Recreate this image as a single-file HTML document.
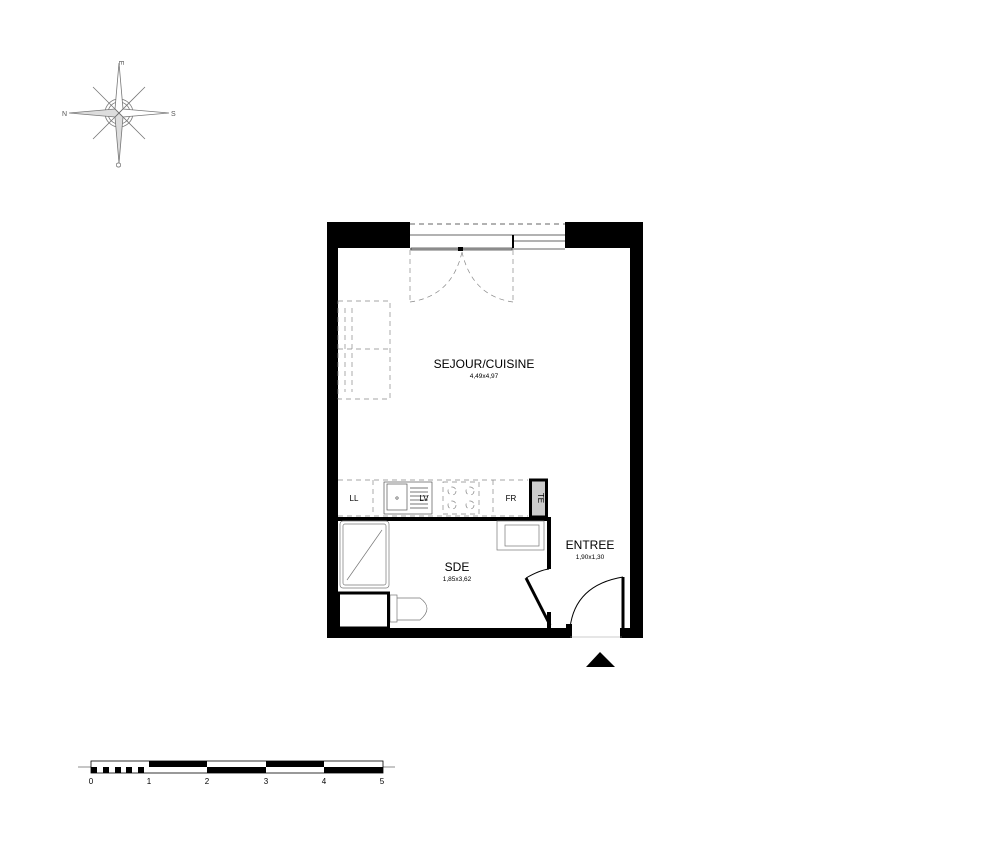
<!DOCTYPE html>
<html><head><meta charset="utf-8"><style>body{margin:0;background:#fff}svg{display:block}text{font-family:"Liberation Sans",Arial,sans-serif}</style></head><body>
<svg width="1000" height="857" viewBox="0 0 1000 857" xmlns="http://www.w3.org/2000/svg">
<!-- compass -->
<g stroke="#777" stroke-width="0.8" fill="#fff">
<circle cx="119" cy="113" r="14" fill="none"/><circle cx="119" cy="113" r="11" fill="none"/>
<polygon points="119,63 123,109 119,113 115,109"/>
<polygon points="119,163 115,117 119,113 123,117" fill="#ddd"/>
<polygon points="69,113 115,109 119,113 115,117" fill="#ddd"/>
<polygon points="169,113 123,117 119,113 123,109"/>
<polygon points="93,87 117,111 121,115" /><polygon points="145,87 121,111 117,115"/>
<polygon points="93,139 117,115 121,111"/><polygon points="145,139 121,115 117,111"/>
</g>
<g font-size="7" fill="#555"><text x="119" y="63" text-anchor="middle" transform="rotate(90 119 63)">E</text><text x="171" y="116">S</text><text x="62" y="116">N</text><text x="119" y="168" text-anchor="middle" transform="rotate(90 119 165)">O</text></g>
<!-- walls -->
<g fill="#000">
<rect x="327" y="222" width="83" height="26"/>
<rect x="565" y="222" width="78" height="26"/>
<rect x="327" y="222" width="11" height="416"/>
<rect x="630" y="222" width="13" height="416"/>
<rect x="327" y="628" width="243" height="10"/>
<rect x="338" y="517" width="211" height="4"/>
<rect x="547" y="517" width="4" height="52"/>
<rect x="547" y="612" width="4" height="18"/>
</g>
<line x1="629" y1="250" x2="629" y2="628" stroke="#fff" stroke-width="1"/>
<!-- window -->
<g stroke="#333" stroke-width="0.7" fill="none">
<line x1="410" y1="224" x2="565" y2="224" stroke-dasharray="5,4"/>
<line x1="410" y1="235" x2="565" y2="235"/><line x1="514" y1="241" x2="565" y2="241"/>
<line x1="410" y1="249" x2="565" y2="249"/>
<rect x="411" y="248" width="101" height="2" fill="#bbb"/>
</g>
<rect x="512" y="235" width="2" height="13" fill="#000"/><rect x="458" y="247" width="5" height="4" fill="#000"/>
<g stroke="#888" stroke-width="0.7" fill="none" stroke-dasharray="5,4">
<line x1="410" y1="250" x2="410" y2="302"/><line x1="513" y1="250" x2="513" y2="302"/>
<path d="M410 302 Q452 296 462 252"/><path d="M513 302 Q472 296 462 252"/>
<rect x="338" y="301" width="52" height="98"/>
<line x1="338" y1="349" x2="390" y2="349"/>
<line x1="345" y1="308" x2="345" y2="392"/><line x1="352" y1="308" x2="352" y2="392"/>
<line x1="338" y1="480" x2="528" y2="480"/><line x1="338" y1="516" x2="528" y2="516"/>
<line x1="373" y1="480" x2="373" y2="516"/><line x1="493" y1="480" x2="493" y2="516"/>
<rect x="443" y="482" width="36" height="32"/>
<circle cx="452" cy="491" r="4"/><circle cx="470" cy="491" r="4"/><circle cx="452" cy="505" r="4"/><circle cx="470" cy="505" r="4"/>
</g>
<g stroke="#555" stroke-width="0.7" fill="none">
<rect x="384" y="482" width="48" height="32"/><rect x="387" y="484" width="20" height="26"/>
<circle cx="397" cy="498" r="1.2"/>
</g>
<g stroke="#777" stroke-width="1"><line x1="410" y1="488" x2="428" y2="488"/><line x1="410" y1="492" x2="428" y2="492"/><line x1="410" y1="496" x2="428" y2="496"/><line x1="410" y1="500" x2="428" y2="500"/><line x1="410" y1="504" x2="428" y2="504"/><line x1="410" y1="508" x2="428" y2="508"/></g>
<rect x="530.5" y="480" width="16" height="37" fill="#ccc" stroke="#000" stroke-width="3"/>
<!-- SDE fixtures -->
<g stroke="#777" stroke-width="0.7" fill="none">
<rect x="340" y="521" width="49" height="67" rx="3"/><rect x="343" y="524" width="43" height="61" rx="2"/>
<line x1="347" y1="580" x2="382" y2="530"/>
<rect x="497" y="521" width="47" height="29"/><rect x="505" y="525" width="34" height="21"/>
<rect x="390" y="595" width="7" height="27"/>
<path d="M397 598 L420 598 Q434 608 420 620 L397 620"/>
</g>
<rect x="338.5" y="593" width="50" height="35" fill="none" stroke="#000" stroke-width="3"/>
<!-- doors -->
<line x1="526" y1="578" x2="550" y2="625" stroke="#000" stroke-width="3"/>
<path d="M526 578 Q540 570 549 569" stroke="#000" stroke-width="1" fill="none"/>
<line x1="623" y1="577" x2="623" y2="628" stroke="#000" stroke-width="3"/>
<path d="M570 628 Q575 585 623 577" stroke="#000" stroke-width="1" fill="none"/>
<rect x="620" y="628" width="23" height="10" fill="#000"/>
<rect x="566" y="624" width="6" height="14" fill="#000"/>
<line x1="570" y1="637" x2="622" y2="637" stroke="#999" stroke-width="0.6"/>
<polygon points="586,667 615,667 600,652" fill="#000"/>
<!-- labels -->
<text x="484" y="368" font-size="12" text-anchor="middle">SEJOUR/CUISINE</text>
<text x="484" y="378" font-size="6.5" text-anchor="middle">4,49x4,97</text>
<text x="457" y="571" font-size="12" text-anchor="middle">SDE</text>
<text x="457" y="581" font-size="6.5" text-anchor="middle">1,85x3,62</text>
<text x="590" y="549" font-size="12" text-anchor="middle">ENTREE</text>
<text x="590" y="559" font-size="6.5" text-anchor="middle">1,90x1,30</text>
<g font-size="8" text-anchor="middle"><text x="354" y="501">LL</text><text x="424" y="501">LV</text><text x="511" y="501">FR</text></g>
<text x="538" y="498" font-size="8" text-anchor="middle" transform="rotate(90 538 498)">TE</text>
<!-- scale -->
<line x1="78" y1="767" x2="395" y2="767" stroke="#666" stroke-width="0.7"/>
<rect x="91" y="761" width="292" height="12" fill="#fff" stroke="#000" stroke-width="0.8"/>
<g fill="#000">
<rect x="149" y="761" width="58" height="6"/><rect x="266" y="761" width="58" height="6"/>
<rect x="207" y="767" width="59" height="6"/><rect x="324" y="767" width="59" height="6"/>
<rect x="91" y="767" width="6" height="6"/><rect x="103" y="767" width="6" height="6"/><rect x="115" y="767" width="6" height="6"/><rect x="126" y="767" width="6" height="6"/><rect x="138" y="767" width="6" height="6"/>
</g>
<g font-size="8" text-anchor="middle"><text x="91" y="784">0</text><text x="149" y="784">1</text><text x="207" y="784">2</text><text x="266" y="784">3</text><text x="324" y="784">4</text><text x="382" y="784">5</text></g>
</svg>
</body></html>
